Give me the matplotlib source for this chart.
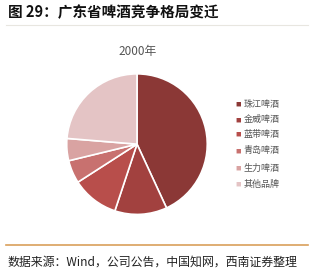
import matplotlib
matplotlib.use('Agg')
import matplotlib.pyplot as plt
from matplotlib.lines import Line2D

plt.rcParams['font.family'] = ['Noto Sans CJK SC', 'DejaVu Sans']

# --- Data ---
brands = ['珠江啤酒', '金威啤酒', '蓝带啤酒', '青岛啤酒', '生力啤酒', '其他品牌']
shares = [43.1, 12.0, 10.8, 5.3, 5.1, 23.7]
colors = ['#8B3836', '#A2413F', '#B84E4B', '#C8716F', '#D9A3A2', '#E4C4C5']
year_label = '2000年'

fig = plt.figure(figsize=(3.11, 2.73), dpi=100)

# header / footer
fig.text(0.025, 0.956, '图 29：广东省啤酒竞争格局变迁', fontsize=10.5, fontweight='bold',
         va='center', ha='left', color='#111111')
fig.add_artist(Line2D([0.02, 0.99], [0.907, 0.907], color='#E8E6E0', lw=0.8))
fig.add_artist(Line2D([0.02, 0.99], [0.103, 0.103], color='#D9A05B', lw=1.2))
fig.text(0.025, 0.04, '数据来源：Wind，公司公告，中国知网，西南证券整理', fontsize=8.6,
         style='italic', va='center', ha='left', color='#222222')

# pie
ax = fig.add_axes([0.212, 0.212, 0.457, 0.52])
ax.pie(shares, colors=colors, startangle=90, counterclock=False,
       wedgeprops=dict(edgecolor='white', linewidth=1.2))
ax.set_xlim(-1.01, 1.01)
ax.set_ylim(-1.01, 1.01)
ax.set_aspect('equal')
fig.text(0.442, 0.81, year_label, fontsize=8.5, color='#555555', ha='center', va='center')

# legend
ys = [0.619, 0.561, 0.509, 0.447, 0.385, 0.326]
for name, c, y in zip(brands, colors, ys):
    fig.text(0.758, y, '■', fontsize=4, color=c, ha='left', va='center')
    fig.text(0.784, y, name, fontsize=6.5, color='#555555', ha='left', va='center')

fig.savefig('out.png', dpi=100)
